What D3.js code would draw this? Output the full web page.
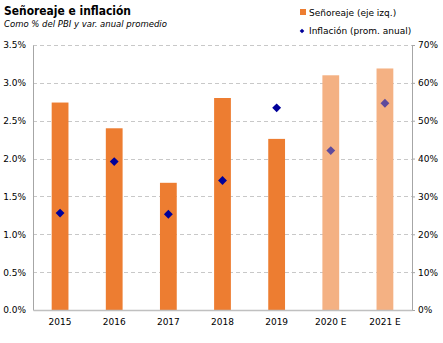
<!DOCTYPE html>
<html>
<head>
<meta charset="utf-8">
<script src="https://cdn.jsdelivr.net/npm/d3@7"></script>
<style>
  body { margin: 0; background: #fff; }
  text { font-family: Tahoma, "DejaVu Sans", sans-serif; }
</style>
</head>
<body>
<div id="chart"></div>
<script>
// data
const years = ["2015", "2016", "2017", "2018", "2019", "2020 E", "2021 E"];
const senoreaje = [2.74, 2.40, 1.68, 2.80, 2.26, 3.10, 3.19];   // % del PBI
const inflacion = [25.6, 39.2, 25.3, 34.2, 53.4, 42.1, 54.6];   // % var. anual
const estimated = [false, false, false, false, false, true, true];
const leftTicks = [0, 0.5, 1, 1.5, 2, 2.5, 3, 3.5];
const rightTicks = [0, 10, 20, 30, 40, 50, 60, 70];

const width = 443, height = 343;
const margin = { top: 45, right: 31, bottom: 33, left: 33 };

const svg = d3.select("#chart").append("svg")
  .attr("width", width)
  .attr("height", height);

const x = d3.scaleBand()
  .domain(years)
  .range([margin.left, width - margin.right])
  .paddingInner(0.69)
  .paddingOuter(0.345);

const yL = d3.scaleLinear().domain([0, 3.5]).range([height - margin.bottom, margin.top]);
const yR = d3.scaleLinear().domain([0, 70]).range([height - margin.bottom, margin.top]);

// gridlines
svg.append("g")
  .selectAll("line")
  .data(leftTicks.slice(1))
  .join("line")
  .attr("x1", margin.left)
  .attr("x2", width - margin.right)
  .attr("y1", (d) => Math.round(yL(d)) + 0.5)
  .attr("y2", (d) => Math.round(yL(d)) + 0.5)
  .attr("stroke", "#c8c8c8")
  .attr("stroke-dasharray", "4,3");

// bars
svg.append("g")
  .selectAll("rect")
  .data(years)
  .join("rect")
  .attr("x", (d) => x(d))
  .attr("width", x.bandwidth())
  .attr("y", (d, i) => yL(senoreaje[i]))
  .attr("height", (d, i) => yL(0) - yL(senoreaje[i]))
  .attr("fill", (d, i) => (estimated[i] ? "#f4b183" : "#ed7d31"));

// diamonds
const diamond = d3.symbol().type(d3.symbolDiamond2).size(50);
svg.append("g")
  .selectAll("path")
  .data(years)
  .join("path")
  .attr("d", diamond)
  .attr("transform", (d, i) => `translate(${x(d) + x.bandwidth() / 2},${yR(inflacion[i])})`)
  .attr("fill", (d, i) => (estimated[i] ? "#5e4a9c" : "#00009a"));

// left axis
const axL = svg.append("g")
  .attr("transform", `translate(${margin.left},0)`)
  .call(d3.axisLeft(yL).tickValues(leftTicks).tickSize(0).tickPadding(7)
    .tickFormat((d) => d.toFixed(1) + "%"));
axL.select(".domain").attr("stroke", "#a6a6a6");
axL.selectAll("text").attr("font-size", 9).attr("fill", "#000");

// right axis
const axR = svg.append("g")
  .attr("transform", `translate(${width - margin.right},0)`)
  .call(d3.axisRight(yR).tickValues(rightTicks).tickSizeInner(3).tickSizeOuter(0).tickPadding(3)
    .tickFormat((d) => d + "%"));
axR.select(".domain").attr("stroke", "#a6a6a6");
axR.selectAll("line").attr("stroke", "#a6a6a6");
axR.selectAll("text").attr("font-size", 9).attr("fill", "#000");

// bottom axis
const axB = svg.append("g")
  .attr("transform", `translate(0,${height - margin.bottom})`)
  .call(d3.axisBottom(x).tickSize(0).tickPadding(9));
axB.select(".domain").attr("stroke", "#c0c0c0").attr("stroke-width", 1.5);
axB.selectAll("text").attr("font-size", 9).attr("fill", "#000");

// title
svg.append("text")
  .attr("x", 4).attr("y", 15)
  .attr("font-size", 12).attr("font-weight", "bold")
  .attr("textLength", 127).attr("lengthAdjust", "spacingAndGlyphs")
  .text("Señoreaje e inflación");
svg.append("text")
  .attr("x", 4).attr("y", 27)
  .attr("font-size", 8.5).attr("font-style", "italic")
  .text("Como % del PBI y var. anual promedio");

// legend
const legend = svg.append("g");
legend.append("rect")
  .attr("x", 300).attr("y", 9).attr("width", 6).attr("height", 6)
  .attr("fill", "#ed7d31");
legend.append("text")
  .attr("x", 309).attr("y", 16).attr("font-size", 9)
  .text("Señoreaje (eje izq.)");
legend.append("path")
  .attr("d", d3.symbol().type(d3.symbolDiamond2).size(14))
  .attr("transform", "translate(302,31)")
  .attr("fill", "#00009a");
legend.append("text")
  .attr("x", 309).attr("y", 34).attr("font-size", 9)
  .text("Inflación (prom. anual)");
</script>
</body>
</html>
